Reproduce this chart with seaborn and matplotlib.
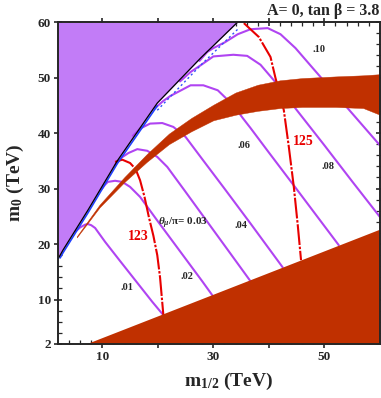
import numpy as np
import matplotlib
matplotlib.use("Agg")
import matplotlib.pyplot as plt
import seaborn as sns

# excluded region (upper left) boundary
bound_x = [2.0, 2.4, 2.9, 7.4, 12.7, 19.9, 27.7, 34.4]
bound_y = [17.3, 18.0, 18.9, 26.1, 35.0, 45.4, 53.5, 60.0]

# excluded region (bottom right)
tri_x = [7.0, 60.0]
tri_y = [2.0, 22.7]

# brown band
band_x = [5.4, 9.5, 14, 18, 22, 26, 30, 34, 38, 42, 46, 52, 57, 60]
band_lo = [21.2, 26.6, 31.2, 34.8, 38.0, 40.3, 42.3, 43.3, 44.0, 44.5, 44.7, 44.7, 44.5, 43.3]
band_hi = [21.4, 27.1, 32.1, 36.2, 39.9, 42.7, 45.1, 47.3, 48.7, 49.5, 49.9, 50.2, 50.4, 50.6]

# theta_mu / pi contours
c01_x = [5.2, 6.0, 6.9, 7.4, 8.0, 8.7, 10.5, 13.0, 16.0, 19.0, 21.0]
c01_y = [22.3, 23.0, 23.5, 23.6, 23.4, 22.9, 20.4, 17.2, 13.4, 9.6, 7.2]
c02_x = [9.8, 10.5, 11.0, 12.3, 13.6, 15.0, 16.8, 20.0, 24.0, 28.0, 29.8]
c02_y = [29.8, 30.7, 31.2, 31.4, 31.2, 30.3, 28.5, 24.1, 18.7, 13.3, 10.8]
c03_x = [12.3, 13.5, 14.7, 16.3, 18.1, 19.9, 21.7, 25.0, 29.0, 33.0, 36.7]
c03_y = [34.3, 35.6, 36.4, 37.1, 36.8, 35.7, 33.9, 29.4, 23.9, 18.4, 13.3]
c04_x = [15.5, 16.8, 18.6, 20.8, 22.8, 25.0, 28.0, 32.0, 36.7, 42.5]
c04_y = [39.5, 40.8, 41.7, 41.8, 41.1, 39.3, 35.3, 30.0, 23.7, 15.8]
c06_x = [19.5, 21.0, 22.3, 25.9, 28.2, 30.8, 33.6, 35.3, 36.7, 40.0, 45.0, 52.6]
c06_y = [44.5, 45.8, 46.7, 48.6, 48.6, 47.7, 45.0, 42.7, 40.9, 36.5, 29.9, 19.8]
c08_x = [24.0, 25.9, 27.7, 30.0, 33.6, 36.1, 38.5, 40.9, 44.9, 50.0, 55.0, 60.0]
c08_y = [49.3, 51.0, 52.2, 53.8, 54.1, 53.9, 52.3, 49.5, 44.3, 37.8, 31.3, 24.9]
c10_x = [27.5, 28.9, 30.0, 32.0, 34.4, 36.7, 39.8, 42.1, 44.8, 48.0, 52.0, 56.0, 60.0]
c10_y = [53.0, 54.6, 55.3, 56.3, 57.8, 58.7, 58.9, 57.8, 55.3, 51.6, 47.0, 42.4, 37.8]

theta_labels = [".01", ".02", ".04", ".06", ".08", ".10"]
theta_lab_x = [14.5, 25.3, 35.0, 35.5, 50.6, 49.0]
theta_lab_y = [12.1, 14.2, 23.3, 37.7, 33.9, 55.0]

# Higgs mass contours
h123_x = [12.3, 13.6, 15.0, 16.0, 16.8, 17.6, 18.4, 19.2, 19.9, 20.4, 21.0]
h123_y = [34.8, 35.2, 34.6, 33.5, 31.5, 28.5, 24.8, 21.5, 18.0, 14.0, 7.2]
h125_x = [35.5, 38.2, 40.3, 41.2, 42.0, 42.7, 43.6, 44.5, 45.2, 45.8]
h125_y = [59.8, 57.3, 53.7, 49.9, 47.0, 44.1, 37.5, 30.3, 23.5, 17.1]

sns.set_style("ticks")
plt.rcParams['font.family'] = ['Liberation Serif', 'DejaVu Serif']
plt.rcParams['font.weight'] = 'bold'
plt.rcParams['mathtext.fontset'] = 'custom'
plt.rcParams['mathtext.rm'] = 'Liberation Serif:bold'
plt.rcParams['mathtext.bf'] = 'Liberation Serif:bold'
plt.rcParams['mathtext.it'] = 'Liberation Serif:italic:bold'

purple_fill = "#c27cf7"
purple_line = "#b044f2"
brown = "#c03000"
red = "#e80000"

fig = plt.figure(figsize=(3.81, 3.98), dpi=100)
ax = fig.add_axes([0.152, 0.1357, 0.845, 0.809])

# purple excluded region + edge lines
ax.fill_between(bound_x, bound_y, 60, color=purple_fill, lw=0, zorder=1)
ax.plot(bound_x, bound_y, color="black", lw=0.9, zorder=4)
bx = np.array(bound_x)
by = np.array(bound_y)
ax.plot(bx[1:6], by[1:6] - 0.5, color="#2040ff", lw=1.2, zorder=3)
ax.plot(bx[5:], by[5:] - 1.3, color="#3050ff", lw=1.0, ls=(0, (1.5, 2)), zorder=3)

# theta contours
for cx, cy in [(c01_x, c01_y), (c02_x, c02_y), (c03_x, c03_y), (c04_x, c04_y),
               (c06_x, c06_y), (c08_x, c08_y), (c10_x, c10_y)]:
    sns.lineplot(x=cx, y=cy, sort=False, estimator=None, color=purple_line,
                 lw=1.5, ax=ax, zorder=2)

# Higgs mass lines
for hx, hy in [(h123_x, h123_y), (h125_x, h125_y)]:
    sns.lineplot(x=hx, y=hy, sort=False, estimator=None, color=red, lw=1.5,
                 linestyle=(0, (10, 0.8, 1.2, 0.8)), ax=ax, zorder=2.5)

# brown band and bottom region
ax.fill_between(band_x, band_lo, band_hi, color=brown, lw=0.3, edgecolor=brown, zorder=5)
ax.fill_between(tri_x, 2, tri_y, color=brown, lw=0, zorder=5)

for lab, lx, ly in zip(theta_labels, theta_lab_x, theta_lab_y):
    ax.text(lx, ly, lab, fontsize=7.5, fontweight='bold', ha='center', va='center', zorder=6)
ax.text(20.1, 23.8, r"$\theta_\mu$/π= 0.03", fontsize=8, fontweight='bold',
        ha='left', va='center', zorder=6)
ax.text(16.5, 21.3, "123", color=red, fontsize=10, fontweight='bold', ha='center', va='center')
ax.text(46.3, 38.4, "125", color=red, fontsize=10, fontweight='bold', ha='center', va='center')

ax.set_xlim(2, 60)
ax.set_ylim(2, 60)
ax.set_xticks([10, 20, 30, 40, 50])
ax.set_xticklabels(["10", "", "30", "", "50"])
ax.set_yticks([2, 10, 20, 30, 40, 50, 60])
ax.set_yticklabels(["2", "10", "20", "30", "40", "50", "60"])
ax.set_xticks(np.arange(4, 60, 2), minor=True)
ax.set_yticks(np.arange(4, 60, 2), minor=True)
ax.tick_params(which='major', direction='inout', length=6, width=1.2, top=True, right=True,
               labelsize=9.5, pad=2)
ax.tick_params(which='minor', direction='in', length=3, width=0.9, top=True, right=True)
for lbl in ax.get_xticklabels() + ax.get_yticklabels():
    lbl.set_fontweight('bold')
for sp in ax.spines.values():
    sp.set_linewidth(1.4)
    sp.set_zorder(7)

ax.set_xlabel(r"m$_{1/2}$ (TeV)", fontsize=14, fontweight='bold')
ax.set_ylabel(r"m$_\mathbf{0}$ (TeV)", fontsize=14, fontweight='bold')
ax.xaxis.set_label_coords(0.53, -0.085)
ax.yaxis.set_label_coords(-0.10, 0.5)

fig.text(0.997, 0.972, "A= 0, tan β = 3.8", fontsize=11.5, fontweight='bold',
         ha='right', va='center')

fig.savefig("out.png", dpi=100)
